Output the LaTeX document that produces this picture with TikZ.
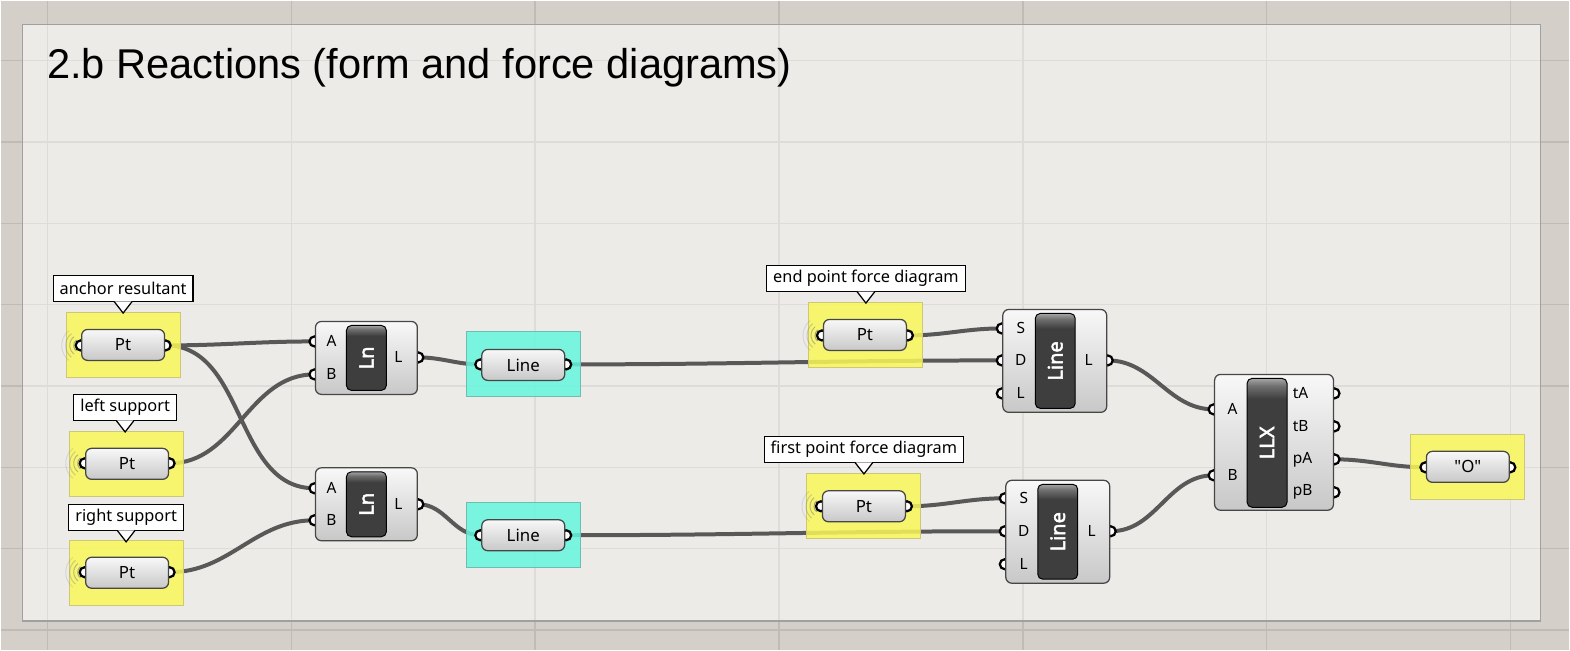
\documentclass[tikz,border=0pt]{standalone}
\usepackage{fontspec}
\setmainfont{Liberation Sans}
\newfontfamily\uifont{Noto Sans}
\newfontfamily\uiboldfont{Noto Sans}[FakeBold=2.5]
\usetikzlibrary{positioning, calc}

\definecolor{canvasbg}{RGB}{212,207,201}
\definecolor{canvasgrid}{RGB}{192,187,181}
\definecolor{groupfill}{RGB}{236,235,231}
\definecolor{groupgrid}{RGB}{222,220,216}
\definecolor{groupedge}{RGB}{160,160,160}
\definecolor{paryellow}{RGB}{250,247,88}
\definecolor{paryellowedge}{RGB}{205,200,120}
\definecolor{parcyan}{RGB}{102,246,222}
\definecolor{parcyanedge}{RGB}{110,190,176}
\definecolor{wiregray}{RGB}{88,88,88}
\definecolor{comptop}{RGB}{248,248,248}
\definecolor{compbot}{RGB}{200,200,200}
\definecolor{compedge}{RGB}{70,70,70}
\definecolor{bardark}{RGB}{62,62,62}
\definecolor{barmid}{RGB}{110,110,110}
\definecolor{barlight}{RGB}{165,165,165}

\pgfdeclareverticalshading{barshade}{100bp}{color(0bp)=(bardark); color(67bp)=(bardark); color(72bp)=(barmid); color(75bp)=(barlight); color(100bp)=(barlight)}

\pgfdeclarelayer{back}
\pgfdeclarelayer{wires}
\pgfsetlayers{back,wires,main}

\begin{document}
\begin{tikzpicture}[x=0.2mm, y=-0.2mm,
  comp/.style={draw=compedge, line width=0.25mm, rounded corners=1.2mm, top color=comptop, bottom color=compbot, inner sep=0pt},
  bar/.style={draw=black, line width=0.2mm, rounded corners=1mm, shading=barshade, inner sep=0pt, minimum width=8mm},
  bartext/.style={rotate=90, text=white, inner sep=0pt, font=\uiboldfont\fontsize{11.4}{12}\selectfont},
  capsule/.style={draw=compedge, line width=0.25mm, rounded corners=1.2mm, top color=comptop, bottom color=compbot, minimum width=16.6mm, minimum height=6.2mm, inner sep=0pt, font=\uifont\fontsize{9.6}{11}\selectfont},
  ypanel/.style={fill=paryellow, fill opacity=0.85, draw=paryellowedge, line width=0.2mm, minimum width=22.8mm, minimum height=13mm, inner sep=0pt},
  cpanel/.style={fill=parcyan, fill opacity=0.85, draw=parcyanedge, line width=0.2mm, minimum width=22.8mm, minimum height=13mm, inner sep=0pt},
  tag/.style={draw=black, fill=white, line width=0.25mm, minimum height=5.2mm, inner xsep=1.3mm, inner ysep=0pt, font=\uifont\fontsize{9.3}{11}\selectfont},
  tagtip/.style={draw=black, fill=white, line width=0.25mm},
  port/.style={circle, draw=black, fill=white, line width=0.45mm, inner sep=0pt, minimum size=2mm},
  pin/.style={inner sep=0pt, font=\uifont\fontsize{8.8}{10}\selectfont},
  wire/.style={draw=wiregray, line width=0.8mm},
  waves/.style={draw=gray, line width=0.2mm}]

% canvas and group
\begin{pgfonlayer}{back}
\fill[canvasbg] (0,0) rectangle (1570,650);
\foreach \gx in {47,291,535,779,1023,1267,1511}
  \draw[canvasgrid, line width=0.3mm] (\gx,0) -- (\gx,650);
\foreach \gy in {60,141.4,222.8,304.2,385.6,467,548.4,629.8}
  \draw[canvasgrid, line width=0.3mm] (0,\gy) -- (1570,\gy);
\fill[groupfill] (22,24) rectangle (1541,621);
\begin{scope}
\clip (22,24) rectangle (1541,621);
\foreach \gx in {47,291,535,779,1023,1267,1511}
  \draw[groupgrid, line width=0.3mm] (\gx,0) -- (\gx,650);
\foreach \gy in {60,141.4,222.8,304.2,385.6,467,548.4,629.8}
  \draw[groupgrid, line width=0.3mm] (0,\gy) -- (1570,\gy);
\end{scope}
\draw[groupedge, line width=0.3mm] (22,24) rectangle (1541,621);
\end{pgfonlayer}

\node[anchor=base west, inner sep=0pt, font=\fontsize{23.7}{28}\selectfont] (title) at (46,78) {2.b Reactions (form and force diagrams)};

% coloured panels
\node[ypanel] (anchorPanel) at (123,344.5) {};
\node[ypanel] (leftPanel) at (126,463.5) {};
\node[ypanel] (rightPanel) at (126,572.5) {};
\node[cpanel] (line1Panel) at (523,363.5) {};
\node[cpanel] (line2Panel) at (523,534.5) {};
\node[ypanel] (endPanel) at (866,334.5) {};
\node[ypanel] (firstPanel) at (864,505.5) {};
\node[ypanel] (outPanel) at (1468,466.5) {};

% ports
\node[port] (anchorIn) at (80,345) {};
\node[port] (anchorOut) at (165,345) {};
\node[port] (leftIn) at (84,463) {};
\node[port] (leftOut) at (169,463) {};
\node[port] (rightIn) at (84,572) {};
\node[port] (rightOut) at (169,572) {};
\node[port] (ln1A) at (314,341) {};
\node[port] (ln1B) at (314,374) {};
\node[port] (ln1L) at (418,357) {};
\node[port] (ln2A) at (314,488) {};
\node[port] (ln2B) at (314,520) {};
\node[port] (ln2L) at (418,504) {};
\node[port] (line1In) at (480,364) {};
\node[port] (line1Out) at (566,364) {};
\node[port] (line2In) at (480,535) {};
\node[port] (line2Out) at (566,535) {};
\node[port] (endIn) at (822,335) {};
\node[port] (endOut) at (908,335) {};
\node[port] (firstIn) at (821,506) {};
\node[port] (firstOut) at (907,506) {};
\node[port] (sdl1S) at (1002,328) {};
\node[port] (sdl1D) at (1002,360) {};
\node[port] (sdl1L) at (1002,393) {};
\node[port] (sdl1Out) at (1108,360) {};
\node[port] (sdl2S) at (1005,498) {};
\node[port] (sdl2D) at (1005,531) {};
\node[port] (sdl2L) at (1005,564) {};
\node[port] (sdl2Out) at (1111,531) {};
\node[port] (llxA) at (1214,409) {};
\node[port] (llxB) at (1214,475) {};
\node[port] (llxtA) at (1335,393) {};
\node[port] (llxtB) at (1335,426) {};
\node[port] (llxpA) at (1335,459) {};
\node[port] (llxpB) at (1335,492) {};
\node[port] (outIn) at (1426,467) {};
\node[port] (outOut) at (1511,467) {};

% point parameters
\node[capsule] (anchorPt) at (122.5,344.5) {Pt};
\node[capsule] (leftPt) at (126.5,463.5) {Pt};
\node[capsule] (rightPt) at (126.5,572.5) {Pt};
\node[capsule] (endPt) at (865,334.5) {Pt};
\node[capsule] (firstPt) at (864,506) {Pt};
\node[capsule] (line1) at (523,364.5) {Line};
\node[capsule] (line2) at (523,535) {Line};
\node[capsule] (outText) at (1468.5,466.5) {"O"};

\foreach \p in {anchorIn, leftIn, rightIn, endIn, firstIn}
  \foreach \r/\o in {1.4/0.7, 2.2/0.5, 3.0/0.35, 3.8/0.2}
    \draw[waves, opacity=\o] ($(\p.center)+(128:\r mm)$) arc[start angle=128, end angle=232, radius=\r mm];

% components
\node[comp, minimum width=20.4mm, minimum height=14.6mm] (ln1) at (366,357.5) {};
\node[bar, minimum height=13mm] (ln1bar) at (366,357.5) {};
\node[bartext] (ln1name) at (ln1bar) {Ln};
\node[comp, minimum width=20.4mm, minimum height=14.6mm] (ln2) at (366,504) {};
\node[bar, minimum height=13mm] (ln2bar) at (366,504) {};
\node[bartext] (ln2name) at (ln2bar) {Ln};
\node[comp, minimum width=20.8mm, minimum height=20.6mm] (sdl1) at (1055,360.5) {};
\node[bar, minimum height=19mm] (sdl1bar) at (1055.5,360.5) {};
\node[bartext] (sdl1name) at (sdl1bar) {Line};
\node[comp, minimum width=20.8mm, minimum height=20.6mm] (sdl2) at (1058,531.5) {};
\node[bar, minimum height=19mm] (sdl2bar) at (1058,531.5) {};
\node[bartext] (sdl2name) at (sdl2bar) {Line};
\node[comp, minimum width=23.8mm, minimum height=27.2mm] (llx) at (1274.5,442) {};
\node[bar, minimum height=25.8mm] (llxbar) at (1267.5,442.5) {};
\node[bartext] (llxname) at (llxbar) {LLX};

\node[pin] at (331,341) {A};
\node[pin] at (331,374) {B};
\node[pin] at (398,357) {L};
\node[pin] at (331,488) {A};
\node[pin] at (331,520) {B};
\node[pin] at (398,504) {L};
\node[pin] at (1021,328) {S};
\node[pin] at (1021,360) {D};
\node[pin] at (1021,393) {L};
\node[pin] at (1089,360) {L};
\node[pin] at (1024,498) {S};
\node[pin] at (1024,531) {D};
\node[pin] at (1024,564) {L};
\node[pin] at (1092,531) {L};
\node[pin] at (1233,409) {A};
\node[pin] at (1233,475) {B};
\node[pin, anchor=west] at (1293,393) {tA};
\node[pin, anchor=west] at (1293,426) {tB};
\node[pin, anchor=west] at (1293,459) {pA};
\node[pin, anchor=west] at (1293,492) {pB};

% name tags
\node[tag] (anchorTag) at (122.5,288) {anchor resultant};
\node[tag] (leftTag) at (124.5,407) {left support};
\node[tag] (rightTag) at (125.5,517) {right support};
\node[tag] (endTag) at (866,278) {end point force diagram};
\node[tag] (firstTag) at (864,449) {first point force diagram};
\foreach \t in {anchorTag, leftTag, rightTag, endTag, firstTag}
  \draw[tagtip] ($(\t.south)+(-9,-0.6)$) -- ($(\t.south)+(0,11)$) -- ($(\t.south)+(9,-0.6)$);

% wires
\begin{pgfonlayer}{wires}
\draw[wire] (anchorOut.center) to[out=0,in=180] (ln1A.center);
\draw[wire] (anchorOut.center) to[out=0,in=180] (ln2A.center);
\draw[wire] (leftOut.center) to[out=0,in=180] (ln1B.center);
\draw[wire] (rightOut.center) to[out=0,in=180] (ln2B.center);
\draw[wire] (ln1L.center) to[out=0,in=180] (line1In.center);
\draw[wire] (ln2L.center) to[out=0,in=180] (line2In.center);
\draw[wire] (line1Out.center) to[out=0,in=180] (sdl1D.center);
\draw[wire] (line2Out.center) to[out=0,in=180] (sdl2D.center);
\draw[wire] (endOut.center) to[out=0,in=180] (sdl1S.center);
\draw[wire] (firstOut.center) to[out=0,in=180] (sdl2S.center);
\draw[wire] (sdl1Out.center) to[out=0,in=180] (llxA.center);
\draw[wire] (sdl2Out.center) to[out=0,in=180] (llxB.center);
\draw[wire] (llxpA.center) to[out=0,in=180] (outIn.center);
\end{pgfonlayer}
\end{tikzpicture}
\end{document}
